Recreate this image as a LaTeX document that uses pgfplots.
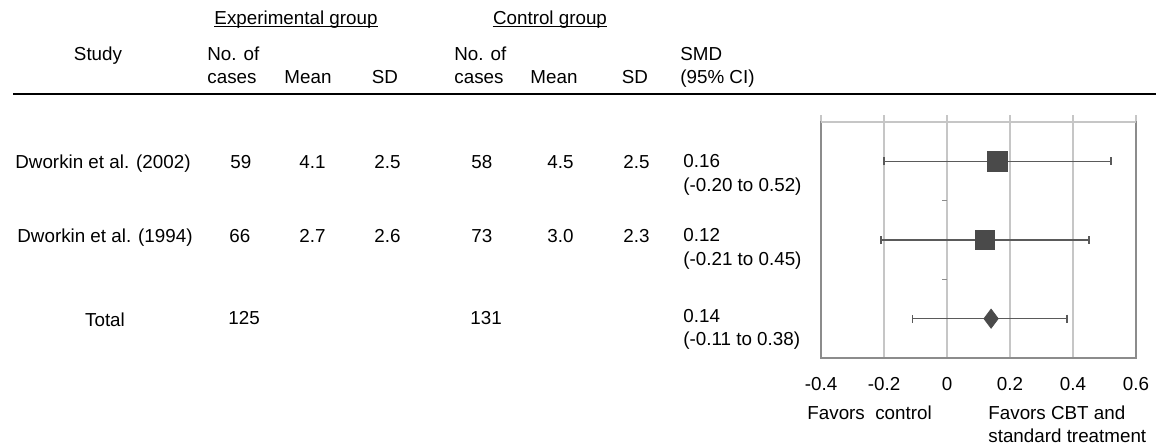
\documentclass[border=0pt]{standalone}
\usepackage{fontspec}
\setmainfont{Liberation Sans}
\usepackage{pgfplots}
\pgfplotsset{compat=1.18}
\definecolor{mk}{HTML}{4A4A4A}
\definecolor{eb}{HTML}{5A5A5A}
\definecolor{gr}{HTML}{C6C6C6}
\definecolor{bx}{HTML}{8C8C8C}
\definecolor{tx}{HTML}{000000}
\begin{document}
\begin{tikzpicture}[x=0.5pt,y=-0.5pt,font=\fontsize{9.4pt}{11pt}\selectfont,
  every node/.style={inner sep=0pt,text=tx}]
\path[use as bounding box] (0,0) rectangle (1156,446);
% header
\node[anchor=base] (eg) at (296,24) {Experimental group};
\draw[line width=0.6pt,tx] ([yshift=-1.3pt]eg.base west) -- ([yshift=-1.3pt]eg.base east);
\node[anchor=base] (cg) at (550,24) {Control group};
\draw[line width=0.6pt,tx] ([yshift=-1.3pt]cg.base west) -- ([yshift=-1.3pt]cg.base east);
\node[anchor=base] at (98,60) {Study};
\node[anchor=base west] at (207,60) {No. of};
\node[anchor=base west] at (207,83) {cases};
\node[anchor=base] at (308,83) {Mean};
\node[anchor=base] at (385,83) {SD};
\node[anchor=base west] at (454,60) {No. of};
\node[anchor=base west] at (454,83) {cases};
\node[anchor=base] at (554,83) {Mean};
\node[anchor=base] at (635,83) {SD};
\node[anchor=base west] at (680,60) {SMD};
\node[anchor=base west] at (680,83) {(95\% CI)};
\draw[line width=1.2pt,tx] (13,94) -- (1156,94);
% rows
\node[anchor=base west] at (15,168) {Dworkin et al. (2002)};
\node[anchor=base west] at (230,168) {59};
\node[anchor=base west] at (299,168) {4.1};
\node[anchor=base west] at (374,168) {2.5};
\node[anchor=base west] at (471,168) {58};
\node[anchor=base west] at (547,168) {4.5};
\node[anchor=base west] at (623,168) {2.5};
\node[anchor=base west] at (683,167) {0.16};
\node[anchor=base west] at (683,191) {(-0.20 to 0.52)};
\node[anchor=base west] at (17,242) {Dworkin et al. (1994)};
\node[anchor=base west] at (229,242) {66};
\node[anchor=base west] at (299,242) {2.7};
\node[anchor=base west] at (374,242) {2.6};
\node[anchor=base west] at (471,242) {73};
\node[anchor=base west] at (547,242) {3.0};
\node[anchor=base west] at (623,242) {2.3};
\node[anchor=base west] at (683,241) {0.12};
\node[anchor=base west] at (683,265) {(-0.21 to 0.45)};
\node[anchor=base] at (105,326) {Total};
\node[anchor=base west] at (228,324) {125};
\node[anchor=base west] at (470,324) {131};
\node[anchor=base west] at (683,322) {0.14};
\node[anchor=base west] at (683,345) {(-0.11 to 0.38)};
% footer labels
\node[anchor=base west] at (807,419) {Favors\ \ control};
\node[anchor=base west] at (988,419) {Favors CBT and};
\node[anchor=base west] at (988,442) {standard treatment};
\begin{axis}[at={(410.5pt,-179pt)},anchor=south west,scale only axis,
  width=157.5pt,height=118pt,
  xmin=-0.4,xmax=0.6,ymin=0.5,ymax=3.5,
  xtick={-0.4,-0.2,0,0.2,0.4,0.6},
  xticklabels={-0.4,-0.2,0,0.2,0.4,0.6},
  xtick pos=upper, xticklabel pos=lower, tick align=outside,
  major tick length=3.5pt,
  x tick style={gr,line width=0.7pt},
  ytick=\empty,
  xmajorgrids, grid style={gr,line width=0.7pt},
  axis line style={bx,line width=0.6pt},
  xticklabel style={font=\fontsize{9.4pt}{11pt}\selectfont,text=tx,anchor=base,yshift=-12.5pt},
  clip=false]
\addplot[only marks, mark=square*, mark size=4.8pt, mk,
  error bars/.cd, x dir=both, x explicit, error mark=-,
  error bar style={eb,line width=0.55pt},
  error mark options={eb,rotate=90,mark size=2pt,line width=0.8pt}]
  coordinates {(0.16,3) -= (0.36,0) += (0.36,0)
               (0.12,2) -= (0.33,0) += (0.33,0)};
\addplot[only marks, mark=diamond*, mark size=4.75pt, mk,
  error bars/.cd, x dir=both, x explicit, error mark=-,
  error bar style={eb,line width=0.55pt},
  error mark options={eb,rotate=90,mark size=2pt,line width=0.8pt}]
  coordinates {(0.14,1) -= (0.25,0) += (0.24,0)};
\draw[gr,line width=0.8pt] (axis cs:-0.4,3.5) -- (axis cs:0.6,3.5);
\draw[bx,line width=0.6pt] ([xshift=-2.5pt]axis cs:0,2.5) -- (axis cs:0,2.5);
\draw[bx,line width=0.6pt] ([xshift=-2.5pt]axis cs:0,1.5) -- (axis cs:0,1.5);
\end{axis}
\end{tikzpicture}
\end{document}
